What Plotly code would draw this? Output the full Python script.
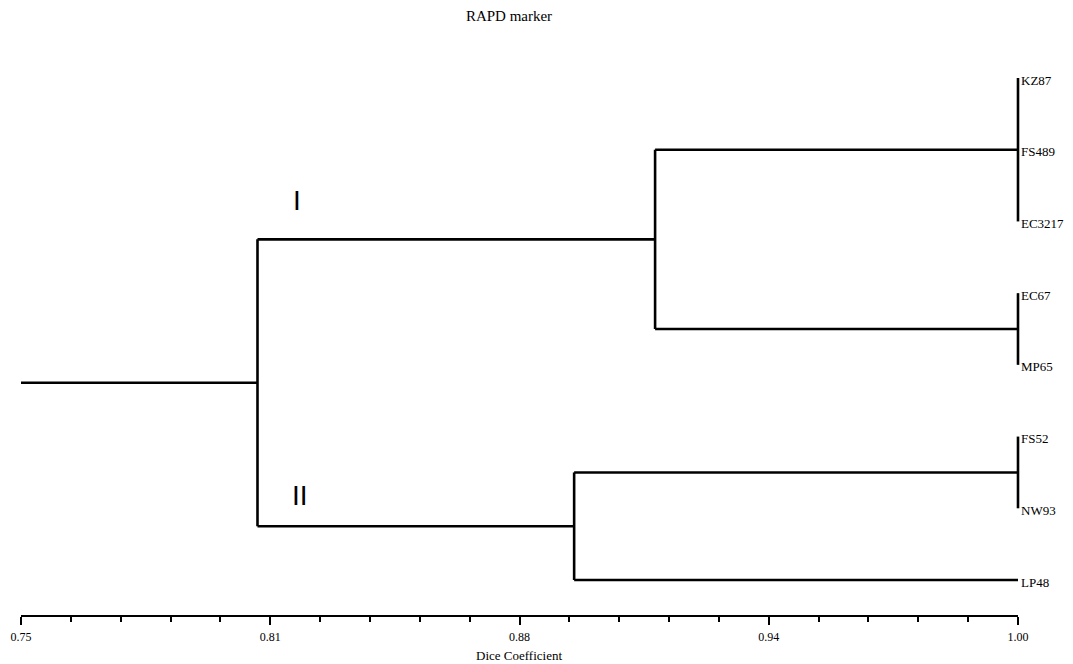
import plotly.graph_objects as go

# ---- data ----
leaves = ["KZ87", "FS489", "EC3217", "EC67", "MP65", "FS52", "NW93", "LP48"]
node_names = ["A", "B", "C", "I", "II", "root"]
node_children = [
    ["KZ87", "FS489", "EC3217"],
    ["EC67", "MP65"],
    ["FS52", "NW93"],
    ["A", "B"],
    ["C", "LP48"],
    ["I", "II"],
]
node_similarity = [1.00, 1.00, 1.00, 0.909, 0.8887, 0.8093]
axis_min, axis_max = 0.75, 1.00
tick_vals = [0.75, 0.8125, 0.875, 0.9375, 1.00]
tick_text = ["0.75", "0.81", "0.88", "0.94", "1.00"]
cluster_labels = ["I", "II"]
axis_title = "Dice Coefficient"
chart_title = "RAPD marker"

# ---- layout geometry (page pixels; page body has an 8px margin) ----
OFF = 8
W, H = 1073 - 2 * OFF, 664 - OFF
left_px, right_px = 21 - OFF, 1018 - OFF
top_px, bot_px = 40 - OFF, 615 - OFF
leaf_top_px, leaf_bot_px = 78 - OFF, 580 - OFF
pad_px = 12
per_px = (axis_max - axis_min) / (right_px - left_px)

# ---- tree geometry from data ----
ypos = {name: i for i, name in enumerate(leaves)}
xpos = {name: axis_max for name in leaves}
xs, ys = [], []
for name, kids, sim in zip(node_names, node_children, node_similarity):
    kid_y = [ypos[k] for k in kids]
    ypos[name] = (min(kid_y) + max(kid_y)) / 2
    xpos[name] = sim
    xs += [sim, sim, None]
    ys += [min(kid_y), max(kid_y), None]
    for k in kids:
        if xpos[k] != sim:
            xs += [sim, xpos[k], None]
            ys += [ypos[k], ypos[k], None]
root = node_names[-1]
xs += [axis_min, xpos[root], None]
ys += [ypos[root], ypos[root], None]

serif = "Liberation Serif, Times New Roman, serif"
sans = "Liberation Sans, Arial, sans-serif"

fig = go.Figure()
# invisible trace to hold the tick axis subplot
fig.add_trace(go.Scatter(x=[axis_min, axis_max], y=[0, 0], mode="markers",
                         marker=dict(opacity=0), hoverinfo="skip",
                         showlegend=False, xaxis="x", yaxis="y"))
fig.add_trace(go.Scatter(x=xs, y=ys, mode="lines",
                         line=dict(color="black", width=2.6),
                         hoverinfo="skip", showlegend=False,
                         xaxis="x2", yaxis="y2"))

step = (leaf_bot_px - leaf_top_px) / (len(leaves) - 1)
y_top = (top_px - leaf_top_px) / step
y_bot = (bot_px - leaf_top_px) / step
ydom = [(H - bot_px) / H, (H - top_px) / H]

annotations = []
for name in leaves:
    annotations.append(dict(x=axis_max, y=ypos[name], xref="x2", yref="y2",
                            text=name, showarrow=False, xanchor="left",
                            yanchor="middle", xshift=1, yshift=-2,
                            font=dict(family=serif, size=13, color="black")))

# Roman numerals placed beside their branches
annotations.append(dict(x=0.8193, y=1.715, xref="x2", yref="y2", text=cluster_labels[0],
                        showarrow=False, font=dict(family=sans, size=28, color="black")))
annotations.append(dict(x=0.8200, y=5.816, xref="x2", yref="y2", text=cluster_labels[1],
                        showarrow=False, font=dict(family=sans, size=28, color="black")))
# axis title
annotations.append(dict(x=(519 - OFF) / W, y=(H - (655 - OFF)) / H, xref="paper", yref="paper",
                        text=axis_title, showarrow=False, xanchor="center", yanchor="middle",
                        font=dict(family=serif, size=13, color="black")))

fig.update_layout(
    width=W, height=H,
    margin=dict(l=0, r=0, t=0, b=0),
    paper_bgcolor="white", plot_bgcolor="white",
    title=dict(text=chart_title, x=(509 - OFF) / W, xanchor="center",
               y=1 - (16 - OFF) / H, yanchor="middle", yref="container",
               font=dict(family=serif, size=15, color="black")),
    xaxis=dict(domain=[left_px / W, right_px / W], range=[axis_min, axis_max],
               anchor="y", tickmode="array", tickvals=tick_vals, ticktext=tick_text,
               ticks="outside", ticklen=8, tickwidth=1.5, tickcolor="black",
               showline=True, linewidth=1.5, linecolor="black",
               showgrid=False, zeroline=False, ticklabelstandoff=2,
               tickfont=dict(family=serif, size=12, color="black"),
               minor=dict(dtick=0.0125, tick0=axis_min, ticks="outside", ticklen=5,
                          tickwidth=1.5, tickcolor="black", showgrid=False),
               automargin=False, fixedrange=True),
    yaxis=dict(domain=ydom, range=[y_bot, y_top], visible=False, fixedrange=True),
    xaxis2=dict(domain=[(left_px - pad_px) / W, (right_px + pad_px) / W],
                range=[axis_min - pad_px * per_px, axis_max + pad_px * per_px],
                anchor="y2", visible=False, fixedrange=True),
    yaxis2=dict(domain=ydom, range=[y_bot, y_top], anchor="x2", visible=False,
                fixedrange=True),
    annotations=annotations,
)

fig.write_html("out.html")
